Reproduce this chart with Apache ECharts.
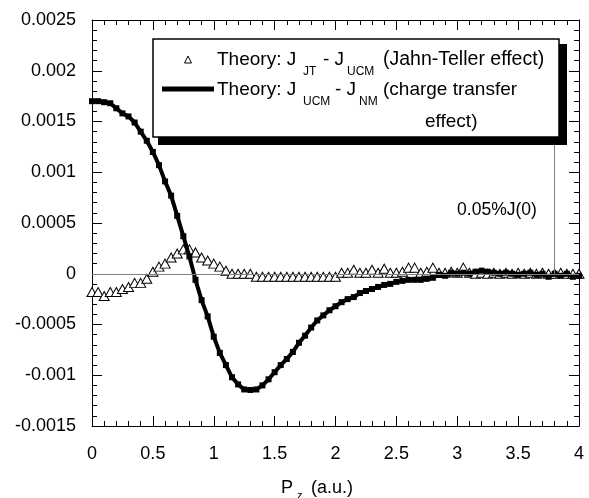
<!DOCTYPE html>
<html><head><meta charset="utf-8">
<script src="https://cdn.jsdelivr.net/npm/echarts@6/dist/echarts.min.js"></script>
<style>html,body{margin:0;padding:0;background:#fff}#c{width:589px;height:498px}</style>
</head><body><div id="c"></div>
<script>
const xTicks = [0, 0.5, 1, 1.5, 2, 2.5, 3, 3.5, 4];
const yTicks = [-0.0015, -0.001, -0.0005, 0, 0.0005, 0.001, 0.0015, 0.002, 0.0025];

const xJT = [0,0.05,0.1,0.15,0.2,0.25,0.3,0.35,0.4,0.45,0.5,0.55,0.6,0.65,0.7,0.75,0.8,0.85,0.9,0.95,
 1,1.05,1.1,1.15,1.2,1.25,1.3,1.35,1.4,1.45,1.5,1.55,1.6,1.65,1.7,1.75,1.8,1.85,1.9,1.95,
 2,2.05,2.1,2.15,2.2,2.25,2.3,2.35,2.4,2.45,2.5,2.55,2.6,2.65,2.7,2.75,2.8,2.85,2.9,2.95,
 3,3.05,3.1,3.15,3.2,3.25,3.3,3.35,3.4,3.45,3.5,3.55,3.6,3.65,3.7,3.75,3.8,3.85,3.9,3.95,4];
const yJT = [-0.00018,-0.00018,-0.00022,-0.00018,-0.00018,-0.00015,-0.00013,-0.00009,-0.00009,-0.00005,
 0.00002,0.00007,0.0001,0.00016,0.0002,0.00024,0.00024,0.00021,0.00016,0.00013,
 0.0001,0.00007,0.00003,0,0,0,0,-0.00003,-0.00003,-0.00003,
 -0.00003,-0.00003,-0.00003,-0.00003,-0.00003,-0.00003,-0.00003,-0.00003,-0.00003,-0.00003,
 -0.00003,0.00001,0.00001,0.00004,0.00001,0.00001,0.00004,0.00001,0.00005,0.00001,
 0.00001,0.00002,0.00006,0.00006,0.00001,0.00002,0.00006,0.00001,0.00001,0.00002,
 0.00001,0.00006,0.00001,0,0.00001,0,0.00001,0,0.00001,0,
 0.00001,0,0.00001,0,0.00001,0,0,0.00001,0,0,0];

const xCT = [0,0.05,0.1,0.15,0.2,0.25,0.3,0.35,0.4,0.45,0.5,0.55,0.6,0.65,0.7,0.75,0.8,0.85,0.9,0.95,
 1,1.05,1.1,1.15,1.2,1.25,1.3,1.35,1.4,1.45,1.5,1.55,1.6,1.65,1.7,1.75,1.8,1.85,1.9,1.95,
 2,2.05,2.1,2.15,2.2,2.25,2.3,2.35,2.4,2.45,2.5,2.55,2.6,2.65,2.7,2.75,2.8,2.85,2.9,2.95,
 3,3.05,3.1,3.15,3.2,3.25,3.3,3.35,3.4,3.45,3.5,3.55,3.6,3.65,3.7,3.75,3.8,3.85,3.9,3.95,4];
const yCT = [0.0017,0.0017,0.00169,0.00168,0.00163,0.00158,0.00155,0.00149,0.0014,0.00131,
 0.0012,0.00107,0.00091,0.00077,0.00057,0.00037,0.00017,-0.00006,-0.00026,-0.00042,
 -0.00062,-0.00078,-0.0009,-0.00102,-0.00109,-0.00114,-0.001145,-0.00114,-0.0011,-0.00104,
 -0.00097,-0.0009,-0.00084,-0.00077,-0.00068,-0.00061,-0.00053,-0.00046,-0.00041,-0.00036,
 -0.00032,-0.00028,-0.00025,-0.00023,-0.00019,-0.00017,-0.00015,-0.00013,-0.00011,-0.0001,
 -0.00008,-0.00007,-0.00006,-0.00006,-0.00006,-0.00005,-0.00004,-0.00001,-0.00002,0.00001,
 0,0.00001,0,0.00002,0.00003,0.00002,0.00001,0,0.00001,0,
 -0.00001,0,0.00001,-0.00001,0,-0.00003,0,-0.00002,0,-0.00003,-0.00002];

const refX = 3.8;
const refLine = [0, 0.0014];

const FONT = 'Liberation Sans';
const axisCommon = {
  type: 'value',
  axisLine: {show: true, onZero: false, lineStyle: {color: '#000', width: 1}},
  axisTick: {show: true, inside: true, length: 10, lineStyle: {color: '#000'}},
  minorTick: {show: true, splitNumber: 5, length: 5, lineStyle: {color: '#000'}},
  splitLine: {show: false},
  minorSplitLine: {show: false}
};

const chart = echarts.init(document.getElementById('c'), null, {renderer: 'canvas'});
chart.setOption({
  animation: false,
  backgroundColor: '#fff',
  grid: {left: 92, right: 10, top: 20, bottom: 72},
  xAxis: [
    Object.assign({}, axisCommon, {position: 'bottom', min: xTicks[0], max: xTicks[xTicks.length-1], interval: 0.5,
      axisLabel: {show: true, margin: 19, color: '#000', fontFamily: FONT, fontSize: 18}}),
    Object.assign({}, axisCommon, {position: 'top', min: xTicks[0], max: xTicks[xTicks.length-1], interval: 0.5,
      axisLabel: {show: false}})
  ],
  yAxis: [
    Object.assign({}, axisCommon, {position: 'left', min: yTicks[0], max: yTicks[yTicks.length-1], interval: 0.0005,
      axisLabel: {show: true, margin: 16, color: '#000', fontFamily: FONT, fontSize: 18,
        formatter: v => { const t = yTicks.find(k => Math.abs(k - v) < 1e-9); return String(t === undefined ? v : t); }}}),
    Object.assign({}, axisCommon, {position: 'right', min: yTicks[0], max: yTicks[yTicks.length-1], interval: 0.0005,
      axisLabel: {show: false}})
  ],
  series: [
    {
      type: 'line', xAxisIndex: 0, yAxisIndex: 0, z: 3,
      data: xJT.map((x, i) => [x, yJT[i]]),
      lineStyle: {width: 0, opacity: 0},
      symbol: 'triangle', symbolSize: [10, 9], showAllSymbol: true,
      itemStyle: {color: '#fff', borderColor: '#000', borderWidth: 1},
      markLine: {
        silent: true, symbol: 'none', label: {show: false},
        lineStyle: {color: '#808080', width: 1, type: 'solid'},
        data: [
          {yAxis: 0},
          [{coord: [refX, refLine[0]]}, {coord: [refX, refLine[1]]}]
        ]
      }
    },
    {
      type: 'line', xAxisIndex: 0, yAxisIndex: 0, z: 4,
      data: xCT.map((x, i) => [x, yCT[i]]),
      lineStyle: {width: 4, color: '#000'},
      symbol: 'rect', symbolSize: 6, showAllSymbol: true,
      itemStyle: {color: '#000', borderWidth: 0}
    }
  ],
  graphic: [
    {type: 'polygon', z: 100, shape: {points: [[556, 44], [567, 44], [567, 145], [158, 145], [158, 134], [556, 134]]}, style: {fill: '#000'}},
    {type: 'rect', z: 101, shape: {x: 153, y: 39, width: 406, height: 98}, style: {fill: '#fff', stroke: '#000', lineWidth: 1.5}},
    {type: 'polygon', z: 102, shape: {points: [[188, 56], [184.5, 63], [191.5, 63]]}, style: {fill: '#fff', stroke: '#000', lineWidth: 1}},
    {type: 'line', z: 102, shape: {x1: 162, y1: 89, x2: 214, y2: 89}, style: {stroke: '#000', lineWidth: 5}},
    {type: 'text', z: 102, x: 217, y: 60, style: {text: 'Theory: J', font: '19px ' + FONT, fill: '#000', verticalAlign: 'middle'}},
    {type: 'text', z: 102, x: 303, y: 72, style: {text: 'JT', font: '12px ' + FONT, fill: '#000', verticalAlign: 'middle'}},
    {type: 'text', z: 102, x: 323, y: 60, style: {text: '- J', font: '19px ' + FONT, fill: '#000', verticalAlign: 'middle'}},
    {type: 'text', z: 102, x: 347, y: 72, style: {text: 'UCM', font: '12px ' + FONT, fill: '#000', verticalAlign: 'middle'}},
    {type: 'text', z: 102, x: 383, y: 60, style: {text: '(Jahn-Teller effect)', font: '19.5px ' + FONT, fill: '#000', verticalAlign: 'middle'}},
    {type: 'text', z: 102, x: 217, y: 90, style: {text: 'Theory: J', font: '19px ' + FONT, fill: '#000', verticalAlign: 'middle'}},
    {type: 'text', z: 102, x: 303, y: 102, style: {text: 'UCM', font: '12px ' + FONT, fill: '#000', verticalAlign: 'middle'}},
    {type: 'text', z: 102, x: 335, y: 90, style: {text: '- J', font: '19px ' + FONT, fill: '#000', verticalAlign: 'middle'}},
    {type: 'text', z: 102, x: 359, y: 102, style: {text: 'NM', font: '12px ' + FONT, fill: '#000', verticalAlign: 'middle'}},
    {type: 'text', z: 102, x: 383, y: 90, style: {text: '(charge transfer', font: '19px ' + FONT, fill: '#000', verticalAlign: 'middle'}},
    {type: 'text', z: 102, x: 425, y: 122, style: {text: 'effect)', font: '19px ' + FONT, fill: '#000', verticalAlign: 'middle'}},
    {type: 'text', z: 102, x: 497, y: 210, style: {text: '0.05%J(0)', font: '17.5px ' + FONT, fill: '#000', align: 'center', verticalAlign: 'middle'}},
    {type: 'text', z: 102, x: 281, y: 488, style: {text: 'P', font: '18px ' + FONT, fill: '#000', verticalAlign: 'middle'}},
    {type: 'text', z: 102, x: 297, y: 496, style: {text: 'z', font: '11px ' + FONT, fill: '#000', verticalAlign: 'middle'}},
    {type: 'text', z: 102, x: 311, y: 488, style: {text: '(a.u.)', font: '18px ' + FONT, fill: '#000', verticalAlign: 'middle'}}
  ]
});
</script>
</body></html>
